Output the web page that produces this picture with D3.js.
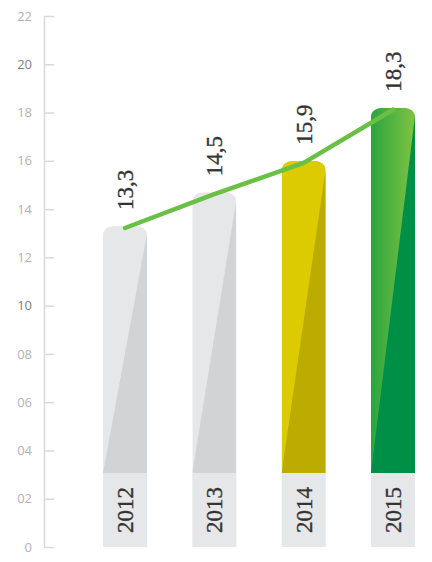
<!DOCTYPE html>
<html>
<head>
<meta charset="utf-8">
<script src="https://cdn.jsdelivr.net/npm/d3@7"></script>
<style>
  html, body { margin: 0; padding: 0; background: #fff; }
  svg { display: block; }
</style>
</head>
<body>
<svg id="chart" width="432" height="562"></svg>
<script>
const years = ["2012", "2013", "2014", "2015"];
const values = [13.3, 14.7, 16.0, 18.2];
const valueLabels = ["13,3", "14,5", "15,9", "18,3"];
const tickValues = [0, 2, 4, 6, 8, 10, 12, 14, 16, 18, 20, 22];
const tickLabels = ["0", "02", "04", "06", "08", "10", "12", "14", "16", "18", "20", "22"];

const lightColors = ["#e6e7e8", "#e6e7e8", "#dccb00", "url(#greenGrad)"];
const darkColors = ["#d1d3d4", "#d1d3d4", "#bcab00", "#008f47"];

const SERIF = "Liberation Serif";

const svg = d3.select("#chart");
const defs = svg.append("defs");
const gg = defs.append("linearGradient").attr("id", "greenGrad")
  .attr("x1", "0%").attr("x2", "100%").attr("y1", "0%").attr("y2", "0%");
gg.append("stop").attr("offset", "0%").attr("stop-color", "#2aa53f");
gg.append("stop").attr("offset", "100%").attr("stop-color", "#80c342");

const y = d3.scaleLinear().domain([0, 22]).range([547, 16]);
const x = d3.scalePoint().domain(years).range([125, 393]);
const barW = 44;
const labelBoxTop = 473;

// axis
const axis = d3.axisLeft(y).tickValues(tickValues)
  .tickFormat((d, i) => tickLabels[i])
  .tickSizeInner(-10).tickSizeOuter(0).tickPadding(12);
const ag = svg.append("g").attr("transform", "translate(44,0)").call(axis);
ag.select(".domain").attr("stroke", "#d9d9d9").attr("stroke-width", 1.5);
ag.selectAll(".tick line").attr("stroke", "#d9d9d9").attr("stroke-width", 1.5);
ag.selectAll(".tick text")
  .attr("font-family", "Open Sans").attr("font-size", 13)
  .attr("fill", d => (d === 10 || d === 20) ? "#808080" : "#b3b3b3");

const labelLayer = svg.append("g")
  .attr("font-family", SERIF).attr("font-size", 23)
  .attr("fill", "#333").attr("stroke", "#333").attr("stroke-width", 0.35);

// bars
years.forEach((yr, i) => {
  const cx = x(yr), left = cx - barW / 2, right = cx + barW / 2;
  const top = y(values[i]);
  const clipId = "clip" + i;
  defs.append("clipPath").attr("id", clipId)
    .append("rect").attr("x", left).attr("y", top)
    .attr("width", barW).attr("height", labelBoxTop - top + 20)
    .attr("rx", 11).attr("ry", 9);
  const g = svg.insert("g", () => labelLayer.node()).attr("clip-path", `url(#${clipId})`);
  g.append("rect").attr("x", left).attr("y", top)
    .attr("width", barW).attr("height", labelBoxTop - top)
    .attr("fill", lightColors[i]);
  g.append("polygon")
    .attr("points", [[left, labelBoxTop], [right, top + 8], [right, labelBoxTop]].map(p => p.join(",")).join(" "))
    .attr("fill", darkColors[i]);
  svg.insert("rect", () => labelLayer.node()).attr("x", left).attr("y", labelBoxTop)
    .attr("width", barW).attr("height", y(0) - labelBoxTop)
    .attr("fill", "#e6e7e8");
  labelLayer.append("text")
    .attr("transform", `translate(${cx},${(labelBoxTop + y(0)) / 2}) rotate(-90)`)
    .attr("text-anchor", "middle").attr("dy", "0.35em")
    .text(yr);
});

// line
const line = d3.line().x((d, i) => x(years[i])).y(d => y(d) + 2);
svg.insert("path", () => labelLayer.node()).datum(values).attr("d", line)
  .attr("fill", "none").attr("stroke", "#6abf45").attr("stroke-width", 4.5)
  .attr("stroke-linecap", "round").attr("stroke-linejoin", "round");

// value labels
years.forEach((yr, i) => {
  labelLayer.append("text")
    .attr("transform", `translate(${x(yr)},${y(values[i]) - 16}) rotate(-90)`)
    .attr("text-anchor", "start").attr("dy", "0.35em")
    .text(valueLabels[i]);
});
</script>
</body>
</html>
